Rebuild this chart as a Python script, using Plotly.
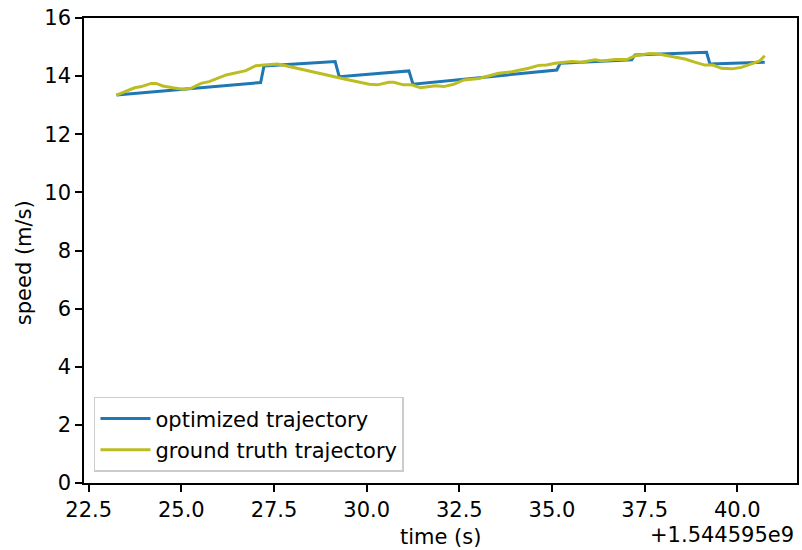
import plotly.graph_objects as go

# time offsets relative to 1.544595e9 s
opt_t = [23.25, 27.14, 27.23, 29.15, 29.26, 31.14, 31.25, 35.13, 35.22,
         37.15, 37.24, 39.17, 39.26, 40.74]
opt_v = [13.35, 13.78, 14.35, 14.50, 13.98, 14.18, 13.72, 14.21, 14.44,
         14.56, 14.73, 14.82, 14.42, 14.48]

gt_t = [23.25, 23.38, 23.74, 23.92, 24.19, 24.32, 24.50, 24.77, 25.04, 25.26,
        25.53, 25.75, 26.21, 26.74, 27.01, 27.23, 27.60, 27.91, 28.53, 29.08,
        29.43, 30.07, 30.29, 30.60, 30.73, 30.99, 31.21, 31.45, 31.67, 31.73,
        31.86, 32.08, 32.35, 32.62, 33.03, 33.56, 33.92, 34.37, 34.64, 34.86,
        35.08, 35.54, 35.80, 36.16, 36.34, 36.70, 37.02, 37.24, 37.64, 37.87,
        38.13, 38.59, 38.85, 39.12, 39.34, 39.57, 39.85, 40.11, 40.38, 40.60,
        40.74]
gt_v = [13.35, 13.41, 13.60, 13.64, 13.75, 13.75, 13.66, 13.60, 13.55, 13.58,
        13.75, 13.81, 14.04, 14.19, 14.36, 14.38, 14.42, 14.33, 14.15, 13.98,
        13.89, 13.72, 13.70, 13.79, 13.79, 13.70, 13.70, 13.60, 13.64, 13.66,
        13.67, 13.64, 13.72, 13.87, 13.92, 14.10, 14.15, 14.27, 14.37, 14.38,
        14.44, 14.50, 14.48, 14.56, 14.52, 14.57, 14.57, 14.70, 14.78, 14.76,
        14.70, 14.59, 14.48, 14.38, 14.38, 14.27, 14.25, 14.30, 14.42, 14.52,
        14.70]

x_ticks = [22.5, 25.0, 27.5, 30.0, 32.5, 35.0, 37.5, 40.0]
y_ticks = [0, 2, 4, 6, 8, 10, 12, 14, 16]
offset_label = "+1.544595e9"

FONT = "DejaVu Sans"
FS = 21

fig = go.Figure()
fig.add_trace(go.Scatter(x=opt_t, y=opt_v, mode="lines", name="optimized trajectory",
                         legendgroup="a",
                         line=dict(color="#1f77b4", width=3)))
fig.add_trace(go.Scatter(x=gt_t, y=gt_v, mode="lines", name="ground truth trajectory",
                         legendgroup="b",
                         line=dict(color="#bcbd22", width=3)))

axis_common = dict(showline=True, mirror=True, linecolor="black", linewidth=1.6,
                   ticks="outside", ticklen=7, tickwidth=1.6, tickcolor="black",
                   showgrid=False, zeroline=False,
                   tickfont=dict(family=FONT, size=FS, color="black"))

fig.update_layout(
    width=802, height=550,
    margin=dict(l=84, r=3, t=18, b=67),
    plot_bgcolor="white", paper_bgcolor="white",
    font=dict(family=FONT, size=FS, color="black"),
    xaxis=dict(range=[22.374, 41.61], tickvals=x_ticks,
               ticktext=[f"{v:.1f}" for v in x_ticks], **axis_common),
    yaxis=dict(range=[0, 16], tickvals=y_ticks,
               ticktext=[str(v) for v in y_ticks], **axis_common),
    legend=dict(x=0.014, y=0.024, xanchor="left", yanchor="bottom",
                bgcolor="rgba(255,255,255,0.8)", bordercolor="#cccccc", borderwidth=1.5,
                font=dict(family=FONT, size=FS, color="black"),
                itemwidth=50,
                traceorder="grouped", tracegroupgap=1),
    showlegend=True,
    annotations=[
        dict(text="time (s)", xref="paper", yref="paper", x=0.5, y=-0.116,
             xanchor="center", yanchor="middle", showarrow=False,
             font=dict(family=FONT, size=FS, color="black")),
        dict(text="speed (m/s)", xref="paper", yref="paper", x=-0.0839, y=0.473,
             xanchor="center", yanchor="middle", textangle=-90, showarrow=False,
             font=dict(family=FONT, size=FS, color="black")),
        dict(text=offset_label, xref="paper", yref="paper", x=0.9986, y=-0.112,
             xanchor="right", yanchor="middle", showarrow=False,
             font=dict(family=FONT, size=FS, color="black")),
    ],
)

fig.write_html("out.html")
